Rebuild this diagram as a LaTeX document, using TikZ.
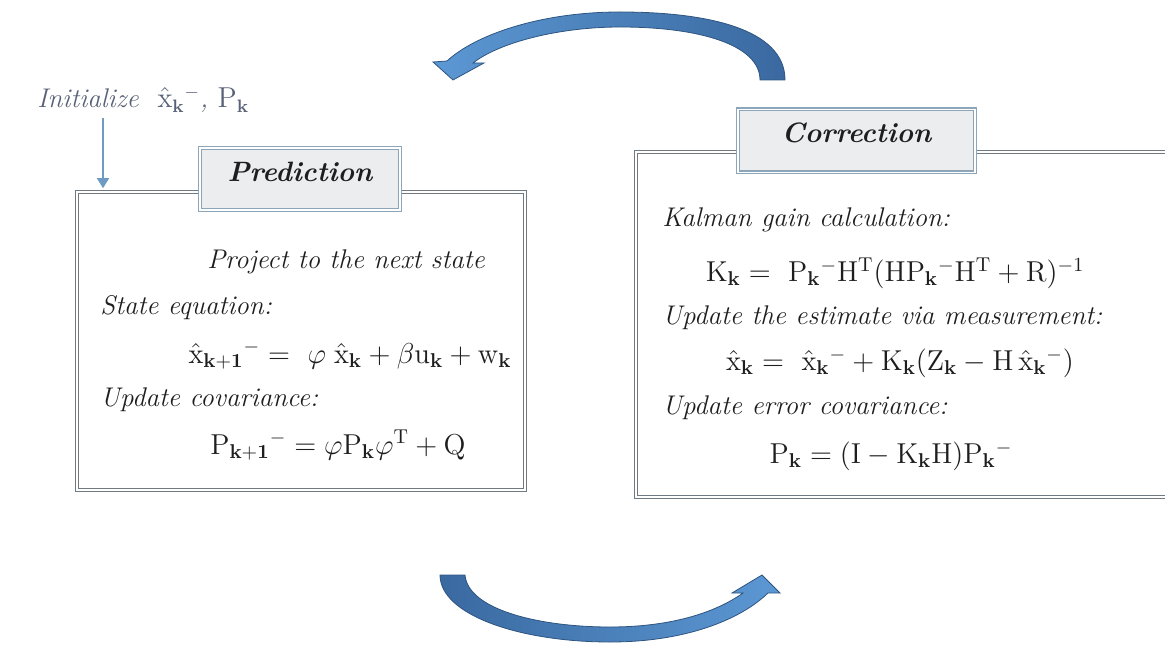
\documentclass[tikz,border=0pt]{standalone}
\usepackage{amsmath}
\usetikzlibrary{positioning,arrows.meta}
\definecolor{kalframe}{RGB}{112,122,130}
\definecolor{kaltitle}{RGB}{236,237,239}
\definecolor{kaltitleedge}{RGB}{140,165,185}
\definecolor{kalink}{RGB}{30,30,30}
\definecolor{kalslate}{RGB}{88,98,118}
\definecolor{kalsteel}{RGB}{110,155,195}
\definecolor{kaldark}{RGB}{58,105,160}
\definecolor{kallight}{RGB}{92,152,212}
\newcommand{\xh}{\hat{\mathrm{x}}}
\newcommand{\kb}{\mathbf{k}}

\begin{document}
\begin{tikzpicture}[x=0.5pt,y=-0.5pt,
  stagebox/.style={draw=kalframe, double=white, double distance=0.7pt, line width=0.8pt, fill=white},
  titlebox/.style={draw=kaltitleedge, double=white, double distance=0.6pt, line width=0.7pt, fill=kaltitle},
  titletext/.style={inner sep=0pt, text=kalink, font=\fontsize{14}{16}\selectfont\bfseries\itshape},
  steptext/.style={inner sep=0pt, text=kalink, font=\fontsize{13.5}{16}\selectfont\itshape},
  eqtext/.style={inner sep=0pt, text=kalink, font=\fontsize{14.5}{17}\selectfont},
  inittext/.style={inner sep=0pt, text=kalslate, font=\fontsize{13.5}{16}\selectfont\itshape},
  initarrow/.style={draw=kalsteel, line width=0.8pt, -{Triangle[length=5pt,width=6pt]}},
  cyclearrow/.style={draw=kaldark!80!black, line width=0.4pt}]
\useasboundingbox (0,0) rectangle (1165,646);
\clip (0,0) rectangle (1165,646);

% boxes
\node[stagebox, minimum width=224pt, minimum height=149pt] (predbox) at (301,341) {};
\node[stagebox, minimum width=272pt, minimum height=172.5pt] (corrbox) at (908,324.5) {};
\node[titlebox, minimum width=100pt, minimum height=31pt] (predtitle) at (300,179) {};
\node[titletext] (predname) at ([yshift=3.5pt]predtitle.center) {Prediction};
\node[titlebox, minimum width=118.5pt, minimum height=31.5pt] (corrtitle) at (856.5,141) {};
\node[titletext] (corrname) at ([yshift=4pt]corrtitle.center) {Correction};

% start
\node[inittext, anchor=west] (init) at (37,100) {Initialize\ \ $\xh_{\kb}{}^{-}$,\ $\mathrm{P}_{\kb}$};
\coordinate (initfoot) at (103,118);
\draw[initarrow, shorten >=1.5pt] (initfoot) -- (initfoot |- predbox.north);

% prediction
\node[steptext] (project) at (346,262) {Project to the next state};
\node[steptext, anchor=west] (stateq) at (100,308) {State equation:};
\node[eqtext] (predeq) at (350,355) {$\xh_{\mathbf{k+1}}{}^{-} = \ \varphi\;\xh_{\kb} + \beta\mathrm{u}_{\kb} + \mathrm{w}_{\kb}$};
\node[steptext, anchor=west] (predcov) at (100,400) {Update covariance:};
\node[eqtext] (coveq) at (338,445) {$\mathrm{P}_{\mathbf{k+1}}{}^{-} = \varphi\mathrm{P}_{\kb}\varphi^{\mathrm{T}} + \mathrm{Q}$};

% correction
\node[steptext, anchor=west] (gain) at (662,220) {Kalman gain calculation:};
\node[eqtext] (gaineq) at (895,273) {$\mathrm{K}_{\kb} = \ \mathrm{P}_{\kb}{}^{-}\mathrm{H}^{\mathrm{T}}(\mathrm{H}\mathrm{P}_{\kb}{}^{-}\mathrm{H}^{\mathrm{T}} + \mathrm{R})^{-1}$};
\node[steptext, anchor=west] (meas) at (662,318) {Update the estimate via measurement:};
\node[eqtext] (measeq) at (900,363) {$\xh_{\kb} = \ \xh_{\kb}{}^{-} + \mathrm{K}_{\kb}(\mathrm{Z}_{\kb} - \mathrm{H}\,\xh_{\kb}{}^{-})$};
\node[steptext, anchor=west] (errcov) at (662,408) {Update error covariance:};
\node[eqtext] (erreq) at (891,456) {$\mathrm{P}_{\kb} = (\mathrm{I} - \mathrm{K}_{\kb}\mathrm{H})\mathrm{P}_{\kb}{}^{-}$};

% loop arrows
\path[cyclearrow, left color=kallight, right color=kaldark]
  (760,80) -- (785,80) .. controls (785,28) and (705,12) .. (620,12)
  .. controls (540,12) and (475,35) .. (447,61) -- (433,62) -- (453,80) -- (484,63) -- (473,63)
  .. controls (500,42) and (560,27) .. (620,27) .. controls (700,27) and (760,45) .. (760,80) -- cycle;
\path[cyclearrow, left color=kaldark, right color=kallight]
  (440,575) .. controls (440,615) and (520,642) .. (610,642)
  .. controls (685,642) and (740,620) .. (768,593) -- (780,593) -- (762,575) -- (732,593) -- (743,593)
  .. controls (715,613) and (670,627) .. (610,627) .. controls (540,627) and (468,610) .. (465,575) -- cycle;
\end{tikzpicture}
\end{document}
